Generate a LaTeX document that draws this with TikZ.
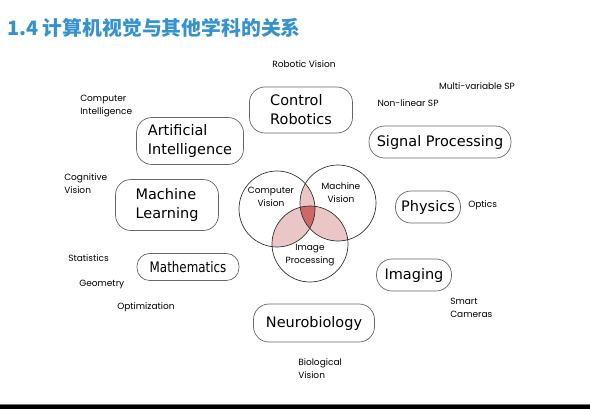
\documentclass[tikz,border=0pt]{standalone}
\usepackage{fontspec}
\setmainfont{DejaVu Sans}
\newfontfamily\cjk{Noto Sans CJK SC}
\newfontfamily\tagfont{Poppins}
\newfontfamily\narrowfont[FakeStretch=0.82]{DejaVu Sans}
\definecolor{titleblue}{HTML}{3592CF}
\definecolor{vennpink}{HTML}{EBC6C6}
\definecolor{vennred}{HTML}{CF6767}
\usetikzlibrary{positioning}

\begin{document}
\begin{tikzpicture}[
x=0.025cm, y=-0.025cm,
area/.style={draw=black!60, line width=0.5pt, rounded corners=11pt, align=left, inner sep=0pt, font=\fontsize{10.3}{13.5}\selectfont},
tag/.style={align=left, inner sep=0pt, font=\tagfont\fontsize{6.4}{9.2}\selectfont},
venn/.style={draw=black!80, line width=0.5pt}
]
\useasboundingbox (0,0) rectangle (590,409);

% title
\node (title) [anchor=west, inner sep=0pt, text=titleblue, font=\cjk\bfseries\fontsize{14.1}{16}\selectfont] at (7,28) {1.4 计算机视觉与其他学科的关系};

% overlapping fields in the middle
\coordinate (cvc) at (277,209);
\coordinate (mvc) at (338,203);
\coordinate (ipc) at (310,244);
\begin{scope}
\clip (cvc) circle (38);
\fill[vennpink] (mvc) circle (38);
\fill[vennpink] (ipc) circle (38);
\end{scope}
\begin{scope}
\clip (mvc) circle (38);
\fill[vennpink] (ipc) circle (38);
\end{scope}
\begin{scope}
\clip (cvc) circle (38);
\clip (mvc) circle (38);
\fill[vennred] (ipc) circle (38);
\end{scope}
\draw[venn] (cvc) circle (38);
\draw[venn] (mvc) circle (38);
\draw[venn] (ipc) circle (38);
\node (cv) [tag, align=center] at (271,197) {Computer\\Vision};
\node (mv) [tag, align=center] at (341,193) {Machine\\Vision};
\node (ip) [tag, align=center] at (310,255) {Image\\Processing};

% neighbouring disciplines
\node (control) [area, minimum width=103*0.025cm, minimum height=46*0.025cm] at (301,110) {Control\\Robotics};
\node (ai) [area, minimum width=107*0.025cm, minimum height=47*0.025cm] at (190,141) {Artificial\\Intelligence};
\node (signal) [area, minimum width=142*0.025cm, minimum height=32*0.025cm] at (440,142) {Signal Processing};
\node (ml) [area, minimum width=103*0.025cm, minimum height=51*0.025cm] at (167,205) {Machine\\Learning};
\node (physics) [area, minimum width=65*0.025cm, minimum height=32*0.025cm] at (428,207) {Physics};
\node (maths) [area, rounded corners=9pt, minimum width=102*0.025cm, minimum height=27*0.025cm, font=\narrowfont\fontsize{10.3}{13.5}\selectfont] at (188,267) {Mathematics};
\node (imaging) [area, minimum width=75*0.025cm, minimum height=32*0.025cm] at (414,275) {Imaging};
\node (neuro) [area, minimum width=121*0.025cm, minimum height=38*0.025cm] at (314,323) {Neurobiology};

% sub topics
\node (robvis) [tag] at (304,64) {Robotic Vision};
\node (multisp) [tag] at (477,86) {Multi-variable SP};
\node (nonlin) [tag] at (408,103) {Non-linear SP};
\node (compint) [tag, anchor=west] at (80,106) {Computer\\Intelligence};
\node (cogvis) [tag, anchor=west] at (64,184) {Cognitive\\Vision};
\node (stats) [tag, anchor=west] at (68,258) {Statistics};
\node (geom) [tag, anchor=west] at (79,284) {Geometry};
\node (optim) [tag, anchor=west] at (117,307) {Optimization};
\node (optics) [tag, anchor=west] at (468,205) {Optics};
\node (smart) [tag, anchor=west] at (450,308) {Smart\\Cameras};
\node (biovis) [tag, anchor=west] at (298,369) {Biological\\Vision};

% bottom bar
\fill[black!55] (0,403.5) rectangle (590,405);
\fill[black] (0,405) rectangle (590,409);
\end{tikzpicture}
\end{document}
